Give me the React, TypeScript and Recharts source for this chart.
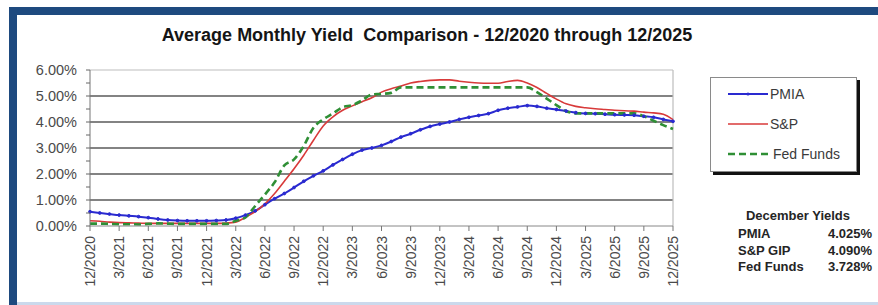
import React from 'react';
import { LineChart, Line, XAxis, YAxis, ReferenceLine } from 'recharts';

const months = [
  '12/2020', '1/2021', '2/2021', '3/2021', '4/2021', '5/2021', '6/2021', '7/2021', '8/2021', '9/2021', '10/2021', '11/2021',
  '12/2021', '1/2022', '2/2022', '3/2022', '4/2022', '5/2022', '6/2022', '7/2022', '8/2022', '9/2022', '10/2022', '11/2022',
  '12/2022', '1/2023', '2/2023', '3/2023', '4/2023', '5/2023', '6/2023', '7/2023', '8/2023', '9/2023', '10/2023', '11/2023',
  '12/2023', '1/2024', '2/2024', '3/2024', '4/2024', '5/2024', '6/2024', '7/2024', '8/2024', '9/2024', '10/2024', '11/2024',
  '12/2024', '1/2025', '2/2025', '3/2025', '4/2025', '5/2025', '6/2025', '7/2025', '8/2025', '9/2025', '10/2025', '11/2025',
  '12/2025',
];

const pmia = [
  0.55, 0.5, 0.46, 0.42, 0.39, 0.36, 0.32, 0.27, 0.23, 0.21, 0.2, 0.2,
  0.2, 0.21, 0.23, 0.3, 0.42, 0.58, 0.82, 1.05, 1.25, 1.48, 1.72, 1.93,
  2.12, 2.35, 2.56, 2.76, 2.92, 3.0, 3.1, 3.25, 3.42, 3.55, 3.7, 3.83,
  3.92, 4.0, 4.1, 4.18, 4.25, 4.32, 4.45, 4.53, 4.58, 4.63, 4.6, 4.53,
  4.48, 4.42, 4.36, 4.33, 4.32, 4.3, 4.28, 4.27, 4.26, 4.22, 4.18, 4.1,
  4.025,
];

const sp = [
  0.2, 0.18, 0.15, 0.13, 0.12, 0.11, 0.1, 0.1, 0.1, 0.1, 0.1, 0.1,
  0.1, 0.1, 0.11, 0.15, 0.33, 0.55, 0.85, 1.25, 1.72, 2.2, 2.72, 3.3,
  3.85, 4.2, 4.45, 4.62, 4.78, 4.93, 5.15, 5.28, 5.38, 5.5, 5.56, 5.6,
  5.62, 5.62, 5.57, 5.53, 5.5, 5.49, 5.49, 5.56, 5.6, 5.5, 5.33, 5.1,
  4.88, 4.7, 4.6, 4.55, 4.51, 4.48, 4.45, 4.43, 4.42, 4.38, 4.35, 4.3,
  4.09,
];

const fed = [
  0.09, 0.09, 0.08, 0.07, 0.07, 0.06, 0.08, 0.1, 0.09, 0.08, 0.08, 0.08,
  0.08, 0.08, 0.08, 0.2, 0.33, 0.77, 1.21, 1.68, 2.33, 2.56, 3.08, 3.78,
  4.1, 4.33, 4.57, 4.65, 4.83, 5.06, 5.08, 5.12, 5.33, 5.33, 5.33, 5.33,
  5.33, 5.33, 5.33, 5.33, 5.33, 5.33, 5.33, 5.33, 5.33, 5.33, 5.15, 4.9,
  4.65, 4.42, 4.33, 4.33, 4.33, 4.33, 4.33, 4.33, 4.33, 4.22, 4.05, 3.88,
  3.728,
];

const yTicks = [0, 0.5, 1, 1.5, 2, 2.5, 3, 3.5, 4, 4.5, 5, 5.5, 6];
const gridValues = [1, 2, 3, 4, 5];

const series = [
  { key: 'pmia', name: 'PMIA', color: '#2a2ad0', width: 2, dash: undefined as string | undefined, dot: true },
  { key: 'sp', name: 'S&P', color: '#d83a3a', width: 1.6, dash: undefined as string | undefined, dot: false },
  { key: 'fed', name: 'Fed Funds', color: '#2f8f35', width: 2.6, dash: '7 4', dot: false },
];

const decemberYields = [
  { label: 'PMIA', value: '4.025%' },
  { label: 'S&P GIP', value: '4.090%' },
  { label: 'Fed Funds', value: '3.728%' },
];

const data = months.map((m, i) => ({ month: m, pmia: pmia[i], sp: sp[i], fed: fed[i] }));

const FONT = 'Arial, "Liberation Sans", sans-serif';

const YTick = (props: any) => {
  const { x, y, payload } = props;
  const v = payload.value as number;
  const major = Math.abs(v - Math.round(v)) < 1e-6;
  return (
    <g>
      <line x1={x - 4} x2={x} y1={y} y2={y} stroke="#666" strokeWidth={1} />
      {major && (
        <text x={x - 13} y={y} dy="0.36em" textAnchor="end" fontSize={14.5} fill="#4a4a4a" fontFamily={FONT}>
          {v.toFixed(2)}%
        </text>
      )}
    </g>
  );
};

const XTick = (props: any) => {
  const { x, y, payload } = props;
  return (
    <g>
      <line x1={x} x2={x} y1={y} y2={y + 5} stroke="#777" strokeWidth={1} />
      <text
        x={0}
        y={0}
        transform={`translate(${x + 5},${y + 10}) rotate(-90)`}
        textAnchor="end"
        fontSize={14}
        fill="#4a4a4a"
        fontFamily={FONT}
      >
        {payload.value}
      </text>
    </g>
  );
};

export default function App() {
  return (
    <div style={{ position: 'absolute', left: 0, top: 0, width: 878, height: 305, background: '#fff', overflow: 'hidden', fontFamily: FONT }}>
      <div style={{ position: 'absolute', left: 9, top: 7, width: 869, height: 8, background: '#1e4a7f' }} />
      <div style={{ position: 'absolute', left: 9, top: 7, width: 8, height: 298, background: '#1e4a7f' }} />
      <div style={{ position: 'absolute', left: 17, top: 302, width: 861, height: 3, background: '#cbd9ec' }} />

      <div
        style={{
          position: 'absolute',
          left: 427,
          top: 25,
          transform: 'translateX(-50%)',
          whiteSpace: 'pre',
          fontSize: 18,
          fontWeight: 'bold',
          color: '#151515',
        }}
      >
        Average Monthly Yield  Comparison - 12/2020 through 12/2025
      </div>

      <div style={{ position: 'absolute', left: 0, top: 0 }}>
        <LineChart width={878} height={305} data={data} margin={{ top: 70, right: 205, bottom: 19, left: 10 }}>
          <XAxis
            dataKey="month"
            interval={2}
            tickLine={false}
            tickSize={0}
            tickMargin={0}
            height={60}
            axisLine={{ stroke: '#888', strokeWidth: 1 }}
            tick={<XTick />}
          />
          <YAxis
            domain={[0, 6]}
            ticks={yTicks}
            interval={0}
            tickLine={false}
            tickSize={0}
            tickMargin={0}
            width={80}
            axisLine={{ stroke: '#777', strokeWidth: 1 }}
            tick={<YTick />}
          />
          {gridValues.map((g) => (
            <ReferenceLine key={g} y={g} stroke="#5a5a5a" strokeWidth={1.6} />
          ))}
          <ReferenceLine y={6} stroke="#bdbdbd" strokeWidth={1.2} />
          <ReferenceLine x="12/2025" stroke="#bdbdbd" strokeWidth={1.2} />
          {series.map((s) => (
            <Line
              key={s.key}
              type="monotone"
              dataKey={s.key}
              name={s.name}
              stroke={s.color}
              strokeWidth={s.width}
              strokeDasharray={s.dash}
              dot={s.dot ? { r: 1.4, fill: s.color, stroke: s.color, strokeWidth: 1 } : false}
              activeDot={false}
              isAnimationActive={false}
            />
          ))}
        </LineChart>
      </div>

      <div
        style={{
          position: 'absolute',
          left: 710,
          top: 77,
          width: 145,
          height: 93,
          border: '1px solid #8a8a8a',
          background: '#fff',
          boxShadow: '3px 3px 0 #111',
        }}
      >
        {series.map((s, i) => (
          <div key={s.key} style={{ position: 'absolute', left: 17, top: 8 + i * 30, height: 16, display: 'flex', alignItems: 'center' }}>
            <svg width={42} height={10} style={{ display: 'block' }}>
              <line x1={0} x2={40} y1={5} y2={5} stroke={s.color} strokeWidth={s.width} strokeDasharray={s.dash} />
              {s.dot && <circle cx={20} cy={5} r={1.6} fill={s.color} />}
            </svg>
            <span style={{ fontSize: 14, color: '#3a3a3a', marginLeft: s.key === 'fed' ? 3 : 0 }}>{s.name}</span>
          </div>
        ))}
      </div>

      <div style={{ position: 'absolute', left: 738, top: 208, width: 134, fontSize: 13, fontWeight: 'bold', color: '#252525' }}>
        <div style={{ textAlign: 'center', marginLeft: -14, height: 18 }}>December Yields</div>
        {decemberYields.map((d) => (
          <div key={d.label} style={{ display: 'flex', justifyContent: 'space-between', height: 16.5, lineHeight: '16.5px' }}>
            <span>{d.label}</span>
            <span>{d.value}</span>
          </div>
        ))}
      </div>
    </div>
  );
}
